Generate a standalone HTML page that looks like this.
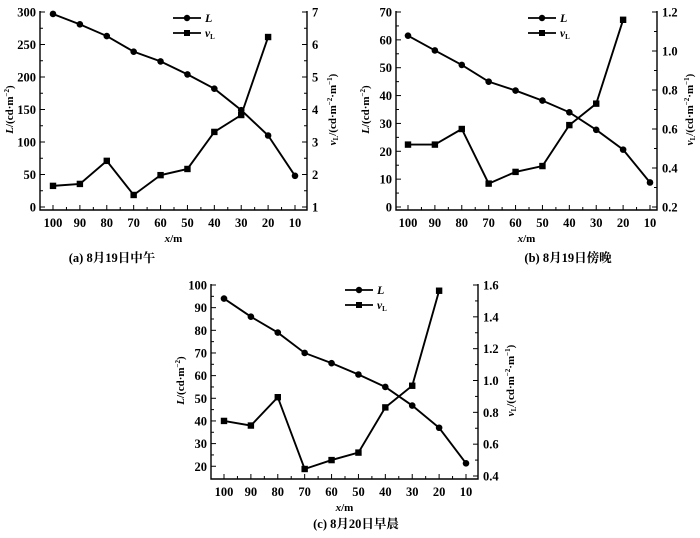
<!DOCTYPE html>
<html><head><meta charset="utf-8"><style>
html,body{margin:0;padding:0;background:#fff;}
svg{display:block;font-family:"Liberation Serif","Noto Serif CJK SC",serif;font-weight:bold;}
</style></head><body>
<svg id="s" width="700" height="538" viewBox="0 0 700 538"></svg>
<script>
const xCats=[100,90,80,70,60,50,40,30,20,10];
const aL=[297,281,263,239,224,204,182,149,110,48];
const aV=[1.65,1.71,2.42,1.37,1.98,2.17,3.31,3.83,6.23];
const bL=[61.5,56.2,51,45,41.8,38.2,34,27.7,20.6,8.8];
const bV=[0.52,0.52,0.6,0.32,0.38,0.41,0.62,0.73,1.16];
const cL=[94,86,79,70,65.5,60.5,55,46.8,37,21.3];
const cV=[0.746,0.717,0.895,0.444,0.5,0.547,0.831,0.967,1.564];
const aLTicks=[0,50,100,150,200,250,300];
const aVTicks=[1,2,3,4,5,6,7];
const bLTicks=[0,10,20,30,40,50,60,70];
const bVTicks=["0.2","0.4","0.6","0.8","1.0","1.2"];
const cLTicks=[20,30,40,50,60,70,80,90,100];
const cVTicks=["0.4","0.6","0.8","1.0","1.2","1.4","1.6"];
const NS="http://www.w3.org/2000/svg";
const svg=document.getElementById('s');
function mk(t,a,p){const e=document.createElementNS(NS,t);for(const k in a)e.setAttribute(k,a[k]);(p||svg).appendChild(e);return e;}
function chart(id,o){
 const g=mk('g',{});
 
 
 const X=v=>o.x100+(100-v)/90*(o.x10-o.x100);
 const YL=v=>o.yb+(v-o.lmin)/(o.lmax-o.lmin)*(o.yt-o.yb);
 const YV=v=>o.yb+(v-o.vmin)/(o.vmax-o.vmin)*(o.yt-o.yb);
 const axB=o.yb+3;
 const ax=mk('path',{d:`M${o.l},${o.yt-1}V${axB}H${o.r}V${o.yt-1}`,fill:'none',stroke:'#000','stroke-width':1.4},g);
 
 for(let v=100;v>=10;v-=5){const x=X(v);const maj=v%10===0;
  mk('line',{x1:x,x2:x,y1:axB,y2:axB-(maj?5:3),stroke:'#000'},g);
  if(maj){const t=mk('text',{x:x,y:axB+17,'text-anchor':'middle','font-size':12.5},g);t.textContent=v;
   }}
 o.lt.forEach((v,i)=>{const y=YL(+v);mk('line',{x1:o.l,x2:o.l+5,y1:y,y2:y,stroke:'#000'},g);
  if(i<o.lt.length-1){const y2=YL((+v+ +o.lt[i+1])/2);mk('line',{x1:o.l,x2:o.l+3,y1:y2,y2:y2,stroke:'#000'},g);}
  const t=mk('text',{x:o.l-4,y:y+4.5,'text-anchor':'end','font-size':12.5},g);t.textContent=v;
  });
 o.vt.forEach((v,i)=>{const y=YV(+v);mk('line',{x1:o.r,x2:o.r-5,y1:y,y2:y,stroke:'#000'},g);
  if(i<o.vt.length-1){const y2=YV((+v+ +o.vt[i+1])/2);mk('line',{x1:o.r,x2:o.r-3,y1:y2,y2:y2,stroke:'#000'},g);}
  const t=mk('text',{x:o.r+5,y:y+4.5,'font-size':12.5},g);t.textContent=v;
  });
 const lp=o.L.map((v,i)=>X(xCats[i])+','+YL(v)).join(' ');
 const l1=mk('polyline',{points:lp,fill:'none',stroke:'#000','stroke-width':1.9},g);
 
 o.L.forEach((v,i)=>{const c=mk('circle',{cx:X(xCats[i]),cy:YL(v),r:3.3,fill:'#000'},g);
  });
 const vp=o.V.map((v,i)=>X(xCats[i])+','+YV(v)).join(' ');
 const l2=mk('polyline',{points:vp,fill:'none',stroke:'#000','stroke-width':1.9},g);
 
 o.V.forEach((v,i)=>{const r=mk('rect',{x:X(xCats[i])-3.2,y:YV(v)-3.2,width:6.4,height:6.4,fill:'#000'},g);
  });
 const lx=o.lgx,ly=o.lgy;
 mk('line',{x1:lx,x2:lx+28,y1:ly,y2:ly,stroke:'#000','stroke-width':1.8},g);
 mk('circle',{cx:lx+14,cy:ly,r:3.2,fill:'#000'},g);
 let t=mk('text',{x:lx+32,y:ly+4,'font-size':12,'font-style':'italic'},g);t.textContent='L';
 
 mk('line',{x1:lx,x2:lx+28,y1:ly+15,y2:ly+15,stroke:'#000','stroke-width':1.8},g);
 mk('rect',{x:lx+11,y:ly+12,width:6,height:6,fill:'#000'},g);
 t=mk('text',{x:lx+32,y:ly+19,'font-size':11.5,'font-style':'italic'},g);t.innerHTML='v<tspan font-size="7" font-style="normal" dy="2">L</tspan>';
 
 const my=(o.yt+o.yb)/2;
 t=mk('text',{x:0,y:0,'font-size':11,'text-anchor':'middle',transform:`translate(${o.l-27},${my}) rotate(-90)`},g);
 t.innerHTML='<tspan font-style="italic">L</tspan>/(cd·m<tspan font-size="7" dy="-4">−2</tspan><tspan dy="4">)</tspan>';
 
 t=mk('text',{x:0,y:0,'font-size':11,'text-anchor':'middle',transform:`translate(${o.r+o.rt},${my}) rotate(-90)`},g);
 t.innerHTML='<tspan font-style="italic">v</tspan><tspan font-size="7" dy="2">L</tspan><tspan dy="-2">/(cd·m</tspan><tspan font-size="7" dy="-4">−2</tspan><tspan dy="4">·m</tspan><tspan font-size="7" dy="-4">−1</tspan><tspan dy="4">)</tspan>';
 
 t=mk('text',{x:(o.l+o.r)/2,y:axB+32,'font-size':11,'text-anchor':'middle'},g);
 t.innerHTML='<tspan font-style="italic">x</tspan>/m';
 
 t=mk('text',{x:o.capx,y:o.capy,'font-size':12.5,'text-anchor':'middle','font-family':'"Liberation Serif","Noto Serif CJK SC",serif'},g);
 t.textContent=o.cap;
 
}
chart('a',{l:40,r:307,yt:12,yb:207,x100:53,x10:295,lmin:0,lmax:300,vmin:1,vmax:7,lt:aLTicks,vt:aVTicks,L:aL,V:aV,lgx:173,lgy:18,rt:29,capx:112,capy:262,cap:'(a) 8月19日中午'});
chart('b',{l:396,r:657,yt:12,yb:207,x100:408,x10:650,lmin:0,lmax:70,vmin:0.2,vmax:1.2,lt:bLTicks,vt:bVTicks,L:bL,V:bV,lgx:528,lgy:18,rt:36,capx:568,capy:262,cap:'(b) 8月19日傍晚'});
chart('c',{l:211,r:478,yt:285,yb:476,x100:224,x10:466,lmin:15.7,lmax:100,vmin:0.4,vmax:1.6,lt:cLTicks,vt:cVTicks,L:cL,V:cV,lgx:345,lgy:290,rt:36,capx:356,capy:528,cap:'(c) 8月20日早晨'});
</script>
</body></html>
